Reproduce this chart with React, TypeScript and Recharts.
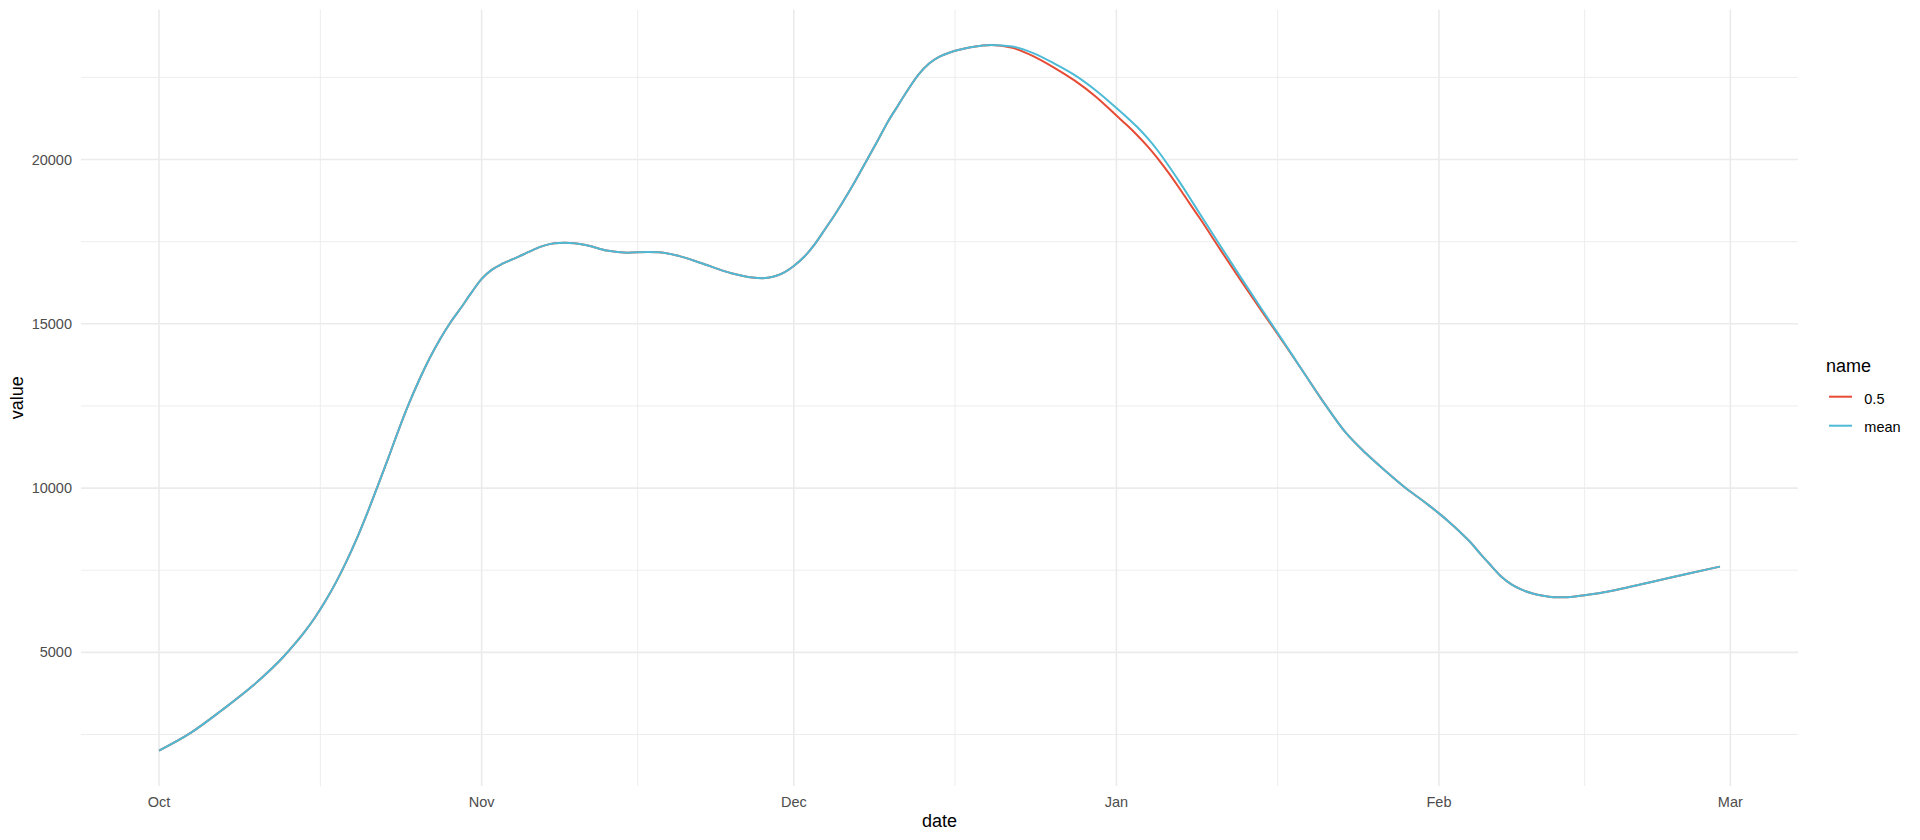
import React from "react";
import { LineChart, Line, XAxis, YAxis, ReferenceLine } from "recharts";

// days since 1 Oct
const days = [
  0, 3, 6, 9, 12, 13, 14, 15, 16, 17, 18, 19, 20, 21, 22, 23, 24, 25, 26, 27,
  28, 29, 30, 31, 32, 33, 34, 35, 36, 37, 38, 39, 41, 43, 45, 47, 48, 50, 52, 55,
  57, 58, 60, 61, 62, 63, 64, 65, 66, 67, 68, 69, 70, 71, 72, 73, 74, 75, 76, 77,
  78, 79, 80, 82, 84, 86, 88, 90, 92, 93, 94, 95, 96, 97, 98, 99, 100, 102, 104, 106,
  108, 110, 112, 114, 116, 118, 120, 121, 122, 123, 124, 125, 126, 127, 128, 129, 130, 131, 132, 133,
  134, 135, 137, 140, 143, 147, 150,
];

const meanValues = [
  2010, 2540, 3230, 3980, 4880, 5240, 5630, 6070, 6570, 7130, 7760, 8460, 9230, 10050, 10890, 11750, 12560, 13290, 13950, 14530,
  15040, 15480, 15940, 16370, 16650, 16830, 16970, 17110, 17260, 17380, 17450, 17470, 17400, 17230, 17165, 17185, 17180, 17060, 16860, 16540,
  16410, 16390, 16550, 16760, 17040, 17420, 17880, 18350, 18860, 19400, 19970, 20540, 21130, 21640, 22140, 22590, 22920, 23130, 23260, 23350,
  23420, 23465, 23490, 23440, 23240, 22930, 22570, 22110, 21570, 21290, 20990, 20650, 20260, 19820, 19350, 18860, 18360, 17370, 16390, 15430,
  14480, 13520, 12570, 11700, 11050, 10480, 9950, 9720, 9480, 9230, 8960, 8670, 8360, 7990, 7640, 7300, 7060, 6900, 6790, 6720,
  6680, 6675, 6740, 6900, 7110, 7400, 7610,
];

const medianValues = [
  2010, 2540, 3230, 3980, 4880, 5240, 5630, 6070, 6570, 7130, 7760, 8460, 9230, 10050, 10890, 11750, 12560, 13290, 13950, 14530,
  15040, 15480, 15940, 16370, 16650, 16830, 16970, 17110, 17260, 17380, 17450, 17470, 17400, 17230, 17165, 17185, 17180, 17060, 16860, 16540,
  16410, 16390, 16550, 16760, 17040, 17420, 17880, 18350, 18860, 19400, 19970, 20540, 21130, 21640, 22140, 22590, 22920, 23130, 23260, 23350,
  23420, 23465, 23490, 23400, 23150, 22800, 22400, 21920, 21340, 21050, 20740, 20400, 20020, 19600, 19150, 18680, 18220, 17250, 16300, 15370,
  14460, 13520, 12570, 11700, 11050, 10480, 9950, 9720, 9480, 9230, 8960, 8670, 8360, 7990, 7640, 7300, 7060, 6900, 6790, 6720,
  6680, 6675, 6740, 6900, 7110, 7400, 7610,
];

const xMajorTicks = [0, 31, 61, 92, 123, 151];
const xTickLabels = ["Oct", "Nov", "Dec", "Jan", "Feb", "Mar"];
const xMinorTicks = [15.5, 46, 76.5, 107.5, 137];
const yMajorTicks = [5000, 10000, 15000, 20000];
const yMinorTicks = [2500, 7500, 12500, 17500, 22500];

const seriesKeys = ["median", "mean"];
const seriesNames = ["0.5", "mean"];
const seriesColors = ["#E64B35", "#4DBBD5"];
const legendTitle = "name";
const xTitle = "date";
const yTitle = "value";

const data = days.map((d, i) => ({ day: d, mean: meanValues[i], median: medianValues[i] }));

const FONT = "'Liberation Sans', Arial, Helvetica, sans-serif";
const GRID = "#EBEBEB";

export default function App() {
  const tickStyle = { fill: "#4D4D4D", fontSize: 14.5, fontFamily: FONT };
  return (
    <div style={{ position: "absolute", left: 0, top: 0, width: 1920, height: 840, background: "#fff" }}>
      <LineChart width={1920} height={840} data={data} margin={{ top: 9.6, right: 122, bottom: 0, left: 0 }}>
        <XAxis
          dataKey="day"
          type="number"
          domain={[-7.5, 157.5]}
          allowDataOverflow
          ticks={xMajorTicks}
          interval={0}
          tickFormatter={(v: number) => xTickLabels[xMajorTicks.indexOf(v)] ?? ""}
          axisLine={false}
          tickLine={false}
          tickSize={0}
          tickMargin={11}
          height={54}
          tick={tickStyle}
          label={{
            content: (p: any) => {
              const vb = p.viewBox || { x: 81, y: 786, width: 1717, height: 54 };
              return (
                <text x={vb.x + vb.width / 2} y={vb.y + 41} textAnchor="middle" fontSize={18} fontFamily={FONT} fill="#000">
                  {xTitle}
                </text>
              );
            },
          }}
        />
        <YAxis
          type="number"
          domain={[932, 24564]}
          allowDataOverflow
          ticks={yMajorTicks}
          interval={0}
          axisLine={false}
          tickLine={false}
          tickSize={0}
          tickMargin={9}
          width={81}
          tick={tickStyle}
          label={{
            content: (p: any) => {
              const vb = p.viewBox || { x: 0, y: 9.6, width: 81, height: 776.4 };
              const cx = vb.x + 23;
              const cy = vb.y + vb.height / 2;
              return (
                <text x={cx} y={cy} transform={`rotate(-90, ${cx}, ${cy})`} textAnchor="middle" fontSize={18} fontFamily={FONT} fill="#000">
                  {yTitle}
                </text>
              );
            },
          }}
        />
        {yMinorTicks.map((v) => (
          <ReferenceLine key={"ym" + v} y={v} stroke={GRID} strokeWidth={0.9} />
        ))}
        {xMinorTicks.map((v) => (
          <ReferenceLine key={"xm" + v} x={v} stroke={GRID} strokeWidth={0.9} />
        ))}
        {yMajorTicks.map((v) => (
          <ReferenceLine key={"yM" + v} y={v} stroke={GRID} strokeWidth={1.6} />
        ))}
        {xMajorTicks.map((v) => (
          <ReferenceLine key={"xM" + v} x={v} stroke={GRID} strokeWidth={1.6} />
        ))}
        {seriesKeys.map((k, i) => (
          <Line
            key={k}
            dataKey={k}
            name={seriesNames[i]}
            type="monotone"
            stroke={seriesColors[i]}
            strokeWidth={2}
            dot={false}
            activeDot={false}
            isAnimationActive={false}
          />
        ))}
      </LineChart>
      <svg width={1920} height={840} style={{ position: "absolute", left: 0, top: 0, pointerEvents: "none" }}>
        <text x={1826} y={372.3} fontSize={18} fontFamily={FONT} fill="#000">
          {legendTitle}
        </text>
        {seriesNames.map((n, i) => (
          <g key={n}>
            <line x1={1829} x2={1852} y1={396.7 + i * 29} y2={396.7 + i * 29} stroke={seriesColors[i]} strokeWidth={2} />
            <text x={1864.3} y={403.5 + i * 28.3} fontSize={14.5} fontFamily={FONT} fill="#000">
              {n}
            </text>
          </g>
        ))}
      </svg>
    </div>
  );
}
